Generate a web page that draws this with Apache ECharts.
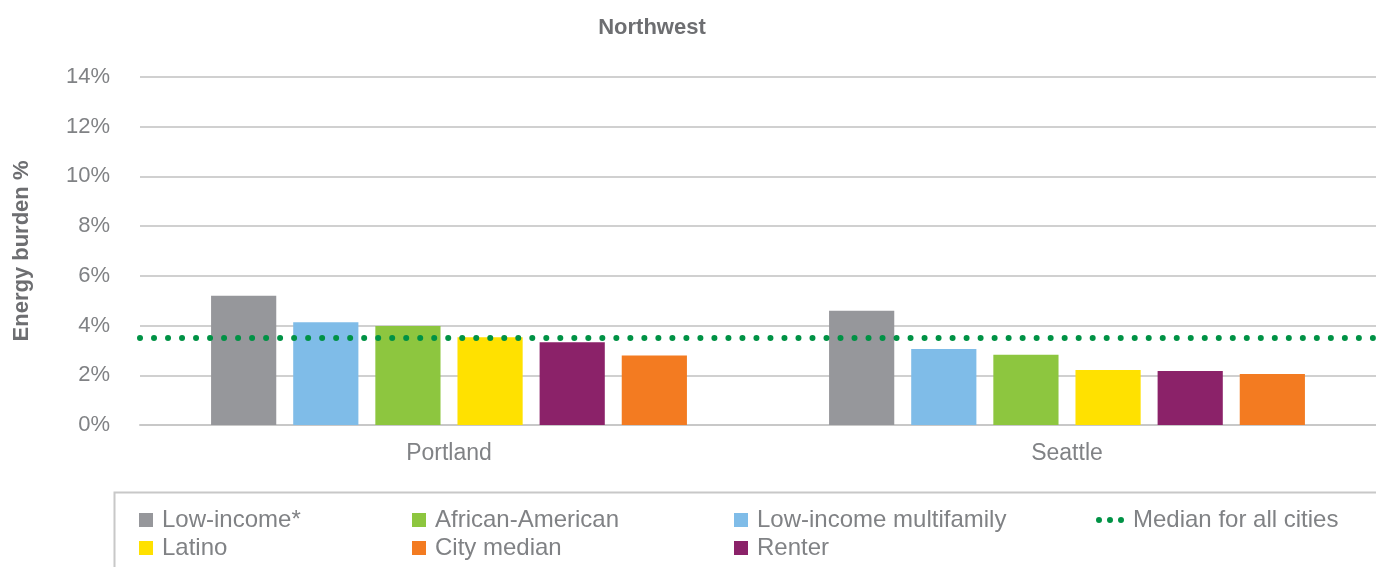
<!DOCTYPE html>
<html>
<head>
<meta charset="utf-8">
<script src="https://cdn.jsdelivr.net/npm/echarts@6/dist/echarts.min.js"></script>
<style>html,body{margin:0;padding:0;background:#fff}#c{width:1376px;height:567px}</style>
</head>
<body>
<div id="c"></div>
<script>
const cities = ['Portland', 'Seattle'];
const lowIncome = [5.2, 4.6];
const lowIncomeMultifamily = [4.13, 3.06];
const africanAmerican = [3.98, 2.83];
const latino = [3.53, 2.21];
const renter = [3.33, 2.17];
const cityMedian = [2.8, 2.05];
const medianAllCities = 3.5;
const yTicks = [0, 2, 4, 6, 8, 10, 12, 14];

const colors = {
  'Low-income*': '#96979b',
  'Low-income multifamily': '#7fbce8',
  'African-American': '#8dc63f',
  'Latino': '#ffe100',
  'Renter': '#8b2269',
  'City median': '#f37b21'
};
const barSeries = [
  ['Low-income*', lowIncome],
  ['Low-income multifamily', lowIncomeMultifamily],
  ['African-American', africanAmerican],
  ['Latino', latino],
  ['Renter', renter],
  ['City median', cityMedian]
];
const textGray = '#808285';
const font = 'Liberation Sans';

const chart = echarts.init(document.getElementById('c'));
const series = barSeries.map(([name, data]) => ({
  name, type: 'bar', data,
  itemStyle: { color: colors[name] },
  barGap: '26%', barCategoryGap: '23%'
}));
series.push({
  name: 'Median for all cities', type: 'line', data: [],
  itemStyle: { color: '#009245' },
  lineStyle: { color: '#009245' },
  markLine: {
    silent: true, symbol: 'none', label: { show: false },
    lineStyle: { color: '#009245', width: 6, type: [0.01, 14], cap: 'round' },
    data: [{ yAxis: medianAllCities }]
  }
});

const dotsIcon = 'path://M0,3a3,3 0 1,0 6,0a3,3 0 1,0 -6,0z M11,3a3,3 0 1,0 6,0a3,3 0 1,0 -6,0z M22,3a3,3 0 1,0 6,0a3,3 0 1,0 -6,0z';
const legendBase = {
  orient: 'vertical', top: 508, itemGap: 4, padding: 0,
  itemWidth: 14, itemHeight: 14, icon: 'rect',
  textStyle: { color: textGray, fontSize: 24, fontFamily: font, lineHeight: 24, padding: [0, 0, 0, 4] },
  selectedMode: false
};

chart.setOption({
  animation: false,
  textStyle: { fontFamily: font },
  title: {
    text: 'Northwest', left: 647, textAlign: 'center', top: 12,
    textStyle: { color: '#6d6e71', fontSize: 22, fontWeight: 'bold', fontFamily: font }
  },
  grid: { left: 140, right: -4, top: 77, bottom: 142 },
  xAxis: {
    type: 'category', data: cities,
    axisLine: { show: true, lineStyle: { color: '#c8c8c8', width: 2 } },
    axisTick: { show: false },
    axisLabel: { color: textGray, fontSize: 23, margin: 17, fontFamily: font }
  },
  yAxis: {
    type: 'value', min: yTicks[0], max: yTicks[yTicks.length - 1], interval: 2,
    name: 'Energy burden %', nameLocation: 'middle', nameGap: 107,
    nameTextStyle: { color: '#6d6e71', fontSize: 22, fontWeight: 'bold', fontFamily: font },
    axisLine: { show: false }, axisTick: { show: false },
    axisLabel: { color: textGray, fontSize: 22, margin: 30, fontFamily: font, formatter: v => v + '%' },
    splitLine: { lineStyle: { color: '#d0d0d0', width: 2 } }
  },
  legend: [
    Object.assign({}, legendBase, { left: 139, data: ['Low-income*', 'Latino'] }),
    Object.assign({}, legendBase, { left: 412, data: ['African-American', 'City median'] }),
    Object.assign({}, legendBase, { left: 734, data: ['Low-income multifamily', 'Renter'] }),
    Object.assign({}, legendBase, { left: 1096, itemWidth: 28, itemHeight: 6, data: [{ name: 'Median for all cities', icon: dotsIcon }] })
  ],
  graphic: [{
    type: 'rect', left: 112, top: 490, silent: true,
    shape: { width: 1300, height: 120 },
    style: { fill: 'none', stroke: '#c8c8c8', lineWidth: 2 }
  }],
  series
});
</script>
</body>
</html>
